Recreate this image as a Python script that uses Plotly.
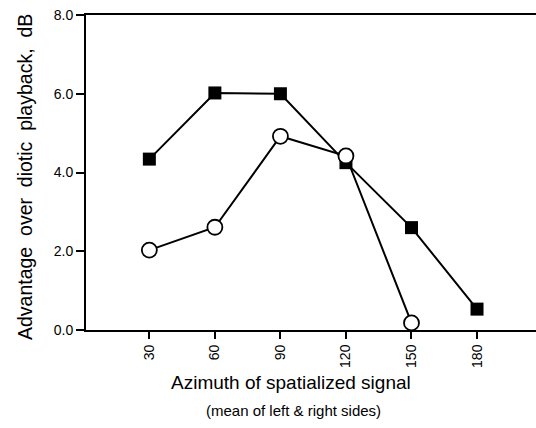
import plotly.graph_objects as go

azimuth = [30, 60, 90, 120, 150, 180]
squares = [4.34, 6.02, 6.0, 4.25, 2.6, 0.53]
circle_az = [30, 60, 90, 120, 150]
circles = [2.03, 2.61, 4.92, 4.42, 0.18]
x_ticks = [30, 60, 90, 120, 150, 180]
y_ticks = [0, 2, 4, 6, 8]
y_labels = ["0.0", "2.0", "4.0", "6.0", "8.0"]

font = "Liberation Sans, Arial, Helvetica, sans-serif"

fig = go.Figure()
fig.add_trace(go.Scatter(
    x=azimuth, y=squares, mode="lines+markers",
    line=dict(color="black", width=2),
    marker=dict(symbol="square", size=13, color="black"),
    showlegend=False, cliponaxis=False))
fig.add_trace(go.Scatter(
    x=circle_az, y=circles, mode="lines+markers",
    line=dict(color="black", width=2),
    marker=dict(symbol="circle", size=15, color="white",
                line=dict(color="black", width=1.8)),
    showlegend=False, cliponaxis=False))

fig.update_layout(
    width=536, height=428,
    margin=dict(l=86, r=0, t=15, b=98, autoexpand=False),
    plot_bgcolor="white", paper_bgcolor="white",
    font=dict(family=font, color="black", size=14),
    xaxis=dict(range=[1, 207], tickvals=x_ticks, ticktext=[str(v) for v in x_ticks],
               tickangle=-90, showgrid=False, zeroline=False, automargin=False,
               showline=True, linecolor="black", linewidth=2, mirror=True,
               ticks="outside", ticklen=7, tickwidth=1.5, tickcolor="black",
               tickfont=dict(size=14)),
    yaxis=dict(range=[0, 8], tickvals=y_ticks, ticktext=y_labels,
               showgrid=False, zeroline=False, automargin=False,
               showline=True, linecolor="black", linewidth=2,
               ticks="outside", ticklen=8, tickwidth=1.5, tickcolor="black",
               tickfont=dict(size=14)),
)
fig.add_annotation(text="Advantage  over  diotic  playback,  dB", xref="paper", yref="paper",
                   x=-0.136, y=0.485, showarrow=False, font=dict(size=19.5),
                   textangle=-90, xanchor="center", yanchor="middle")
fig.add_annotation(text="Azimuth of spatialized signal", xref="paper", yref="paper",
                   x=0.456, y=-0.168, showarrow=False, font=dict(size=19),
                   xanchor="center", yanchor="middle")
fig.add_annotation(text="(mean of left &amp; right sides)", xref="paper", yref="paper",
                   x=0.461, y=-0.254, showarrow=False, font=dict(size=15),
                   xanchor="center", yanchor="middle")
fig.write_html("out.html", config={"displayModeBar": False},
               post_script="document.body.style.margin='0';document.body.style.overflow='hidden';")
